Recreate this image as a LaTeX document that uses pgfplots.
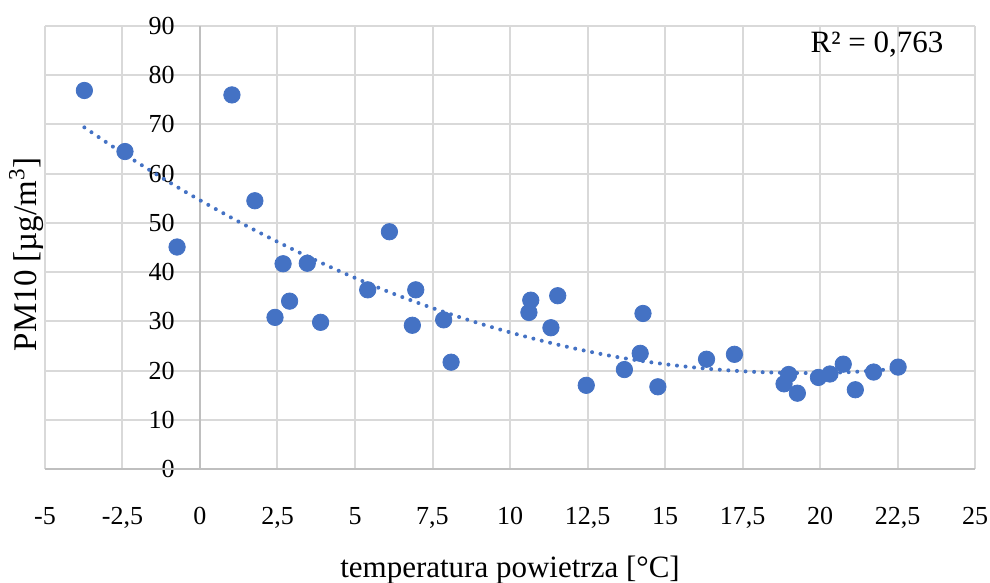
\documentclass[border=0pt]{standalone}
\usepackage{fontspec}
\setmainfont{Liberation Serif}
\usepackage{pgfplots}
\pgfplotsset{compat=1.18}
\definecolor{excelblue}{RGB}{68,114,196}
\definecolor{gridgray}{RGB}{217,217,217}
\definecolor{axisgray}{RGB}{191,191,191}

\begin{document}
\begin{tikzpicture}
\begin{axis}[
	scale only axis,
	width=465pt, height=221.5pt,
	xmin=-5, xmax=25, ymin=0, ymax=90,
	xtick={-5,-2.5,0,2.5,5,7.5,10,12.5,15,17.5,20,22.5,25},
	ytick={0,10,20,30,40,50,60,70,80,90},
	grid=major,
	grid style={line width=1pt, color=gridgray},
	axis line style={draw=none},
	major tick length=0pt,
	extra x ticks={0}, extra x tick labels={},
	extra x tick style={grid style={line width=1pt, color=axisgray}},
	extra y ticks={0}, extra y tick labels={},
	extra y tick style={grid style={line width=1pt, color=axisgray}},
	/pgf/number format/.cd, use comma, 1000 sep={}, assume math mode=true,
	/pgfplots/.cd,
	tick label style={font=\fontsize{13}{15}\selectfont, text=black},
	xticklabel style={anchor=base, inner sep=0pt, yshift=-27.5pt},
	yticklabel style={anchor=east, inner sep=0pt, xshift=65pt},
	xlabel={temperatura powietrza [°C]},
	ylabel={PM10 [µg/m\textsuperscript{3}]},
	every axis x label/.style={at={(axis description cs:0.5,0)}, anchor=base, yshift=-54pt, font=\fontsize{15.5}{18}\selectfont},
	every axis y label/.style={at={(axis description cs:-0.0086,0.485)}, rotate=90, anchor=base, font=\fontsize{16.5}{19}\selectfont},
	clip=false,
]
	% measured points
	\addplot[only marks, mark=*, mark size=4.1pt, color=excelblue, mark options={draw=excelblue, fill=excelblue}] coordinates {
		(-3.73,76.9) (-2.42,64.5) (-0.74,45.1) (1.03,76.0) (1.77,54.5)
		(2.68,41.7) (2.42,30.8) (2.89,34.1) (3.46,41.8) (3.89,29.8)
		(5.41,36.4) (6.11,48.2) (6.96,36.4) (6.85,29.2) (7.86,30.3)
		(8.10,21.7) (10.67,34.3) (10.61,31.8) (11.54,35.2) (11.32,28.7)
		(12.46,17.0) (13.69,20.2) (14.29,31.6) (14.20,23.5) (14.77,16.7)
		(16.34,22.3) (17.24,23.3) (18.84,17.3) (18.99,19.2) (19.27,15.4)
		(19.95,18.6) (20.32,19.3) (20.75,21.3) (21.14,16.1) (21.73,19.7)
		(22.52,20.7)
	};
	% trend line (polynomial)
	\addplot[color=excelblue, line width=2pt, line cap=round, dash pattern=on 0pt off 4.3pt, smooth] coordinates {
		(-3.73,69.4) (-2.5,64.2) (-1,58.3) (0,54.6) (1.5,49.4) (3,44.6)
		(4.5,40.2) (6,36.2) (7.5,32.7) (9,29.6) (10.5,26.9) (12,24.6)
		(13.5,22.7) (15,21.3) (16.5,20.3) (18,19.7) (19.5,19.5) (21,19.7)
		(22.52,20.4)
	};
	\node[anchor=base, font=\fontsize{15.5}{18}\selectfont] at (axis cs:21.84,84.6) {R² = 0,763};
\end{axis}
\pgfresetboundingbox
\path ([shift={(-22.5pt,-57pt)}]current axis.south west) rectangle ([shift={(7.5pt,13pt)}]current axis.north east);
\end{tikzpicture}
\end{document}
